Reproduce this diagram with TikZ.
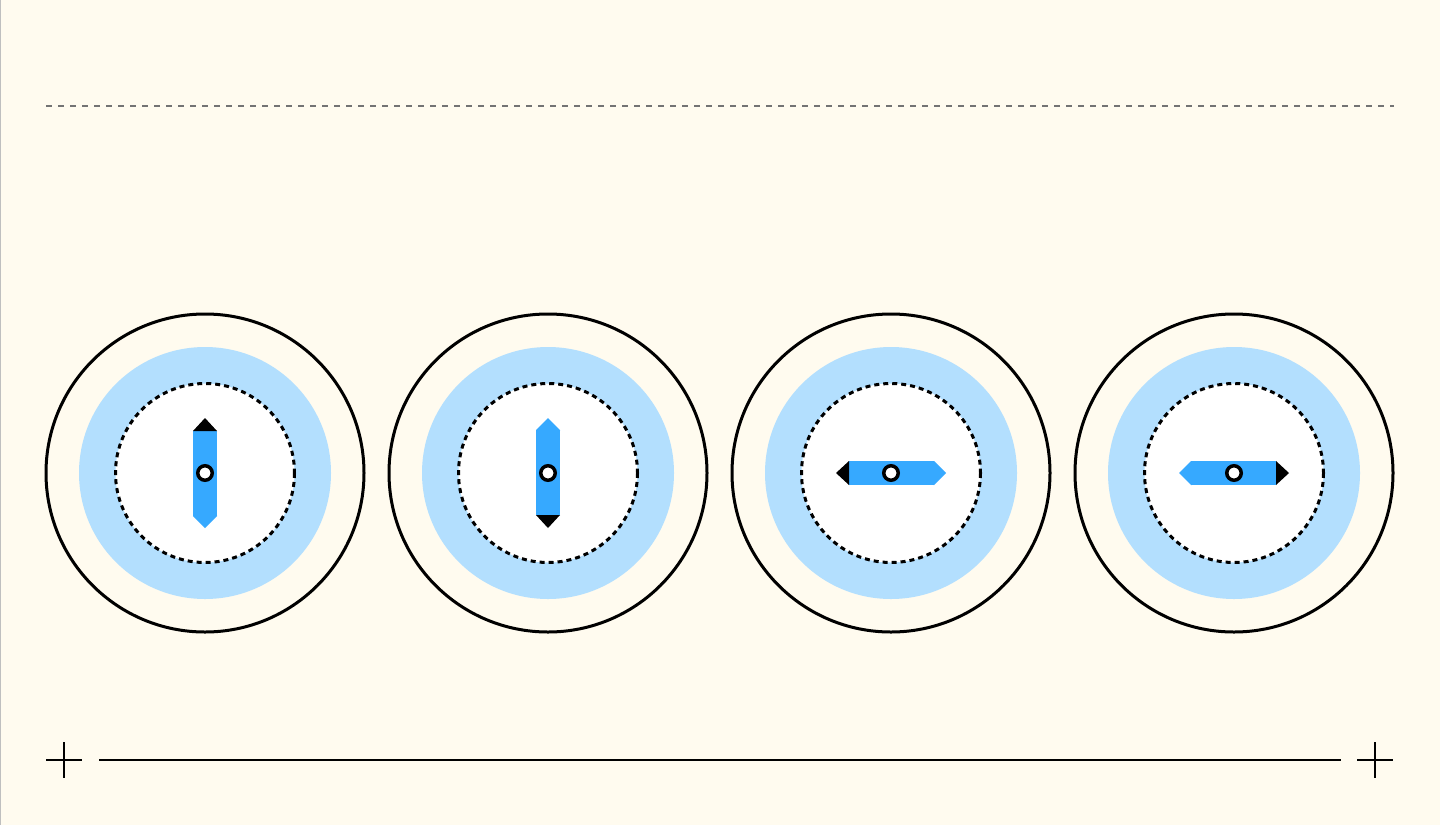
\documentclass[tikz,border=0pt]{standalone}
\usepackage{xcolor}
\usepackage{tikz}
\usetikzlibrary{calc}

\definecolor{paper}{HTML}{FFFBEF}
\definecolor{needleblue}{HTML}{36A9FF}
\definecolor{haloblue}{HTML}{B3DFFE}

\begin{document}
\begin{tikzpicture}[
  x=1pt,y=-1pt,
  rim/.style={draw=black, line width=3pt},
  halo/.style={fill=haloblue},
  dial/.style={fill=white, draw=black, line width=3pt, dash pattern=on 5pt off 4pt},
  needlebody/.style={fill=needleblue},
  northtip/.style={fill=black},
  pivot/.style={circle, draw=black, fill=white, line width=3.5pt, minimum size=14.5pt, inner sep=0pt},
  guide/.style={draw=black!55, line width=1.5pt, dash pattern=on 6pt off 6pt},
  rule/.style={draw=black, line width=1.1pt}
]
% Page and frame.
\fill[paper] (0,0) rectangle (1440,825);
\useasboundingbox (0,0) rectangle (1440,825);
\draw[black!25, line width=1.2pt] (0.6,0) -- (0.6,825);

% Top guide line.
\coordinate (guideL) at (46,106);
\coordinate (guideR) at (1394,106);
\draw[guide] (guideL) -- (guideR);

% Four compasses, the needle turned in each.
\foreach \cx/\turn [count=\i] in {205/0, 548/180, 891/90, 1234/-90} {
  \coordinate (compass\i) at (\cx,473);
  \draw[rim] (compass\i) circle[radius=159];
  \fill[halo] (compass\i) circle[radius=126];
  \draw[dial] (compass\i) circle[radius=89.5];
  \begin{scope}[shift={(compass\i)}, rotate=\turn]
    \fill[needlebody] (-12,-42) rectangle (12,43);
    \fill[needlebody] (-12,42.5) -- (12,42.5) -- (12,43) -- (0,55) -- (-12,43) -- cycle;
    \fill[northtip] (-12,-42) -- (0,-55) -- (12,-42) -- cycle;
  \end{scope}
  \node[pivot] (pivot\i) at (compass\i) {};
}

% Bottom rule with crop marks.
\coordinate (markL) at (64,760);
\coordinate (markR) at (1375,760);
\coordinate (ruleL) at (99,760);
\coordinate (ruleR) at (1341,760);
\draw[rule] (ruleL) -- (ruleR);
\foreach \m in {markL, markR} {
  \draw[rule] ($(\m)+(-18,0)$) -- ($(\m)+(18,0)$);
  \draw[rule] ($(\m)+(0,-18)$) -- ($(\m)+(0,18)$);
}
\end{tikzpicture}
\end{document}
